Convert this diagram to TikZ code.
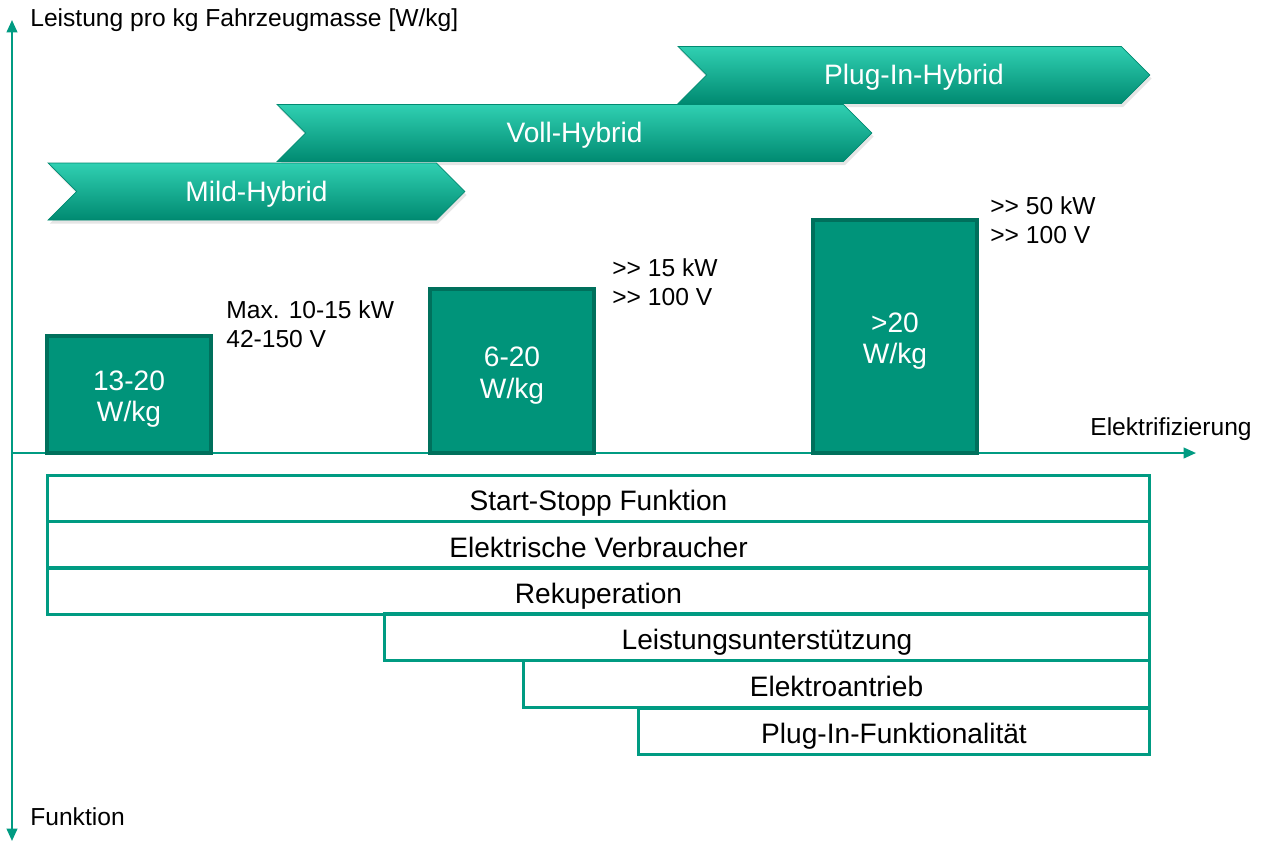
\documentclass[tikz,border=0pt]{standalone}
\usepackage{fontspec}
\setmainfont{Liberation Sans}
\usetikzlibrary{shapes.symbols,arrows.meta,shadows}

\definecolor{axisgreen}{RGB}{0,155,130}
\definecolor{boxfill}{RGB}{0,148,122}
\definecolor{boxdraw}{RGB}{0,112,92}
\definecolor{hybtop}{RGB}{48,208,178}
\definecolor{hybmid}{RGB}{8,170,142}
\definecolor{hybbot}{RGB}{0,138,113}

% extra room above the first line of the W/kg boxes
\newcommand{\topstrut}{\rule{0pt}{16.5pt}}

\tikzset{
	axis/.style={draw=axisgreen, line width=1.2pt},
	hybrid/.style={signal, signal from=west, signal to=east, signal pointer angle=90,
		minimum height=1.14cm, inner sep=0pt, text height=14.5pt, text depth=3.3pt,
		top color=hybtop, middle color=hybmid, bottom color=hybbot, draw=hybbot,
		line width=0.4pt, text=white,
		drop shadow={shadow xshift=1pt, shadow yshift=-2pt, opacity=0.2},
		font=\fontsize{16}{19}\selectfont},
	wkg/.style={draw=boxdraw, fill=boxfill, line width=1.8pt, minimum width=3.28cm,
		text=white, align=center, font=\fontsize{16}{18}\selectfont},
	func/.style={draw=axisgreen, line width=1.7pt, minimum height=0.93cm, inner sep=0pt,
		text height=17pt, text depth=3.3pt, font=\fontsize{16}{19}\selectfont},
	note/.style={anchor=west, align=left, inner sep=0pt, font=\fontsize{14}{16.5}\selectfont},
	label/.style={inner sep=0pt, font=\fontsize{14}{16.5}\selectfont}
}

\begin{document}
\begin{tikzpicture}[x=0.02cm, y=-0.02cm]
	\useasboundingbox[fill=white] (0,0) rectangle (1261,843);
	% axes
	\coordinate (O)    at (12,453);
	\coordinate (ytop) at (12,20);
	\coordinate (ybot) at (12,841);
	\coordinate (xend) at (1196,453);
	\draw[axis, {Triangle[length=7pt,width=6pt]}-{Triangle[length=7pt,width=6pt]}] (ytop) -- (ybot);
	\draw[axis, -{Triangle[length=7pt,width=6pt]}] (O) -- (xend);
	\draw (30,  20) node[label, anchor=west] (ylab) {Leistung pro kg Fahrzeugmasse [W/kg]};
	\draw (30, 817) node[label, anchor=west] (flab) {Funktion};
	\draw (1252,429) node[label, anchor=east] (xlab) {Elektrifizierung};
	% hybrid classes
	\draw (914,  75) node[hybrid, minimum width=9.44cm]  (phev) {Plug-In-Hybrid};
	\draw (574.5,133) node[hybrid, minimum width=11.9cm] (full) {Voll-Hybrid};
	\draw (256.5,191.5) node[hybrid, minimum width=8.34cm] (mild) {Mild-Hybrid};
	% power per mass
	\draw (129,394.5) node[wkg, minimum height=2.34cm] (w1) {\topstrut 13-20\\W/kg};
	\draw (512,371)   node[wkg, minimum height=3.28cm] (w2) {\topstrut 6-20\\W/kg};
	\draw (895,336.5) node[wkg, minimum height=4.66cm] (w3) {\topstrut >20\\W/kg};
	\draw (226,324) node[note] (n1) {Max. 10-15 kW\\42-150 V};
	\draw (612,282) node[note] (n2) {>{}> 15 kW\\>{}> 100 V};
	\draw (990,220) node[note] (n3) {>{}> 50 kW\\>{}> 100 V};
	% functions
	\draw (598.5,498.5) node[func, minimum width=22.06cm] (f1) {Start-Stopp Funktion};
	\draw (598.5,545)   node[func, minimum width=22.06cm] (f2) {Elektrische Verbraucher};
	\draw (598.5,591)   node[func, minimum width=22.06cm] (f3) {Rekuperation};
	\draw (767,637)     node[func, minimum width=15.32cm] (f4) {Leistungsunterstützung};
	\draw (836.5,684)   node[func, minimum width=12.54cm] (f5) {Elektroantrieb};
	\draw (894,731.5)   node[func, minimum width=10.24cm] (f6) {Plug-In-Funktionalität};
\end{tikzpicture}
\end{document}
